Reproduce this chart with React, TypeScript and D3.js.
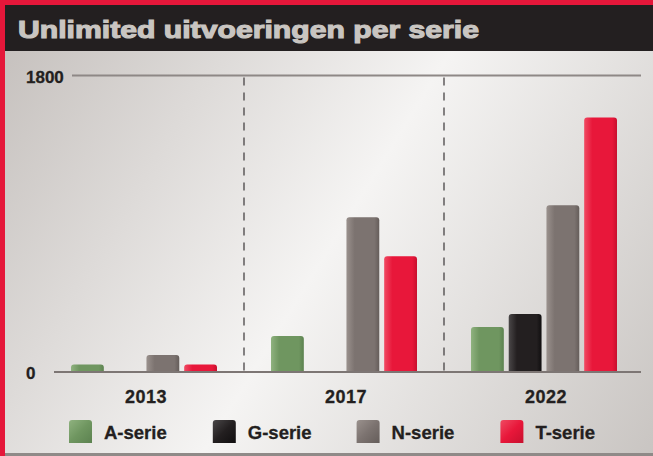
import React from "react";
import * as d3 from "d3";

const years = ["2013", "2017", "2022"];
const series = ["A-serie", "G-serie", "N-serie", "T-serie"];
const aSerie = [45, 218, 273];
const gSerie = [0, 0, 352];
const nSerie = [103, 940, 1012];
const tSerie = [45, 703, 1545];
const yTicks = [0, 1800];
const title = "Unlimited uitvoeringen per serie";

const W = 653;
const H = 456;
const colors: Record<string, [string, string, string]> = {
  "A-serie": ["#8fb27f", "#6f9660", "#5c8250"],
  "G-serie": ["#4a4748", "#231f20", "#100e0f"],
  "N-serie": ["#9a918d", "#7c7370", "#655d5a"],
  "T-serie": ["#f04a62", "#e8173a", "#c8102e"],
};

function topRounded(x: number, y: number, w: number, h: number, r: number) {
  if (h <= 0) return "";
  const rr = Math.min(r, h, w / 2);
  return `M${x},${y + h}V${y + rr}Q${x},${y} ${x + rr},${y}H${x + w - rr}Q${x + w},${y} ${x + w},${y + rr}V${y + h}Z`;
}

export default function App() {
  const values: Record<string, number[]> = {
    "A-serie": aSerie,
    "G-serie": gSerie,
    "N-serie": nSerie,
    "T-serie": tSerie,
  };
  const x0 = d3.scaleBand().domain(years).range([44, 644]).padding(0);
  const x1 = d3.scaleBand().domain(series).range([27, 173]).paddingInner(0.13).paddingOuter(0);
  const y = d3.scaleLinear().domain([0, 1800]).range([372, 75.5]);
  const font = "'Liberation Sans', Arial, Helvetica, sans-serif";

  return (
    <svg width={W} height={H} style={{ display: "block", position: "absolute", left: 0, top: 0 }}>
      <defs>
        <linearGradient id="bg" gradientUnits="userSpaceOnUse" x1="0" y1="51" x2="653" y2="454">
          <stop offset="0" stopColor="#c6c1be" />
          <stop offset="0.5" stopColor="#f5f4f3" />
          <stop offset="1" stopColor="#c9c5c2" />
        </linearGradient>
        {series.map((s) => (
          <linearGradient key={s} id={`g-${s}`} x1="0" y1="0" x2="1" y2="0">
            <stop offset="0" stopColor={colors[s][0]} />
            <stop offset="0.25" stopColor={colors[s][1]} />
            <stop offset="0.85" stopColor={colors[s][1]} />
            <stop offset="1" stopColor={colors[s][2]} />
          </linearGradient>
        ))}
        {series.map((s) => (
          <linearGradient key={s} id={`gl-${s}`} x1="0" y1="0" x2="1" y2="1">
            <stop offset="0" stopColor={colors[s][0]} />
            <stop offset="0.5" stopColor={colors[s][1]} />
            <stop offset="1" stopColor={colors[s][2]} />
          </linearGradient>
        ))}
      </defs>
      <rect x={0} y={0} width={W} height={H} fill="url(#bg)" />
      <rect x={0} y={0} width={W} height={6} fill="#e5173a" />
      <rect x={5} y={5} width={W - 5} height={46} fill="#231f20" />
      <rect x={0} y={0} width={5} height={H} fill="#e5173a" />
      <rect x={5} y={453} width={W - 5} height={3} fill="#8f8a88" />
      <text x={18} y={38} fontFamily={font} fontWeight="bold" fontSize={24} fill="#c9c5c1" stroke="#c9c5c1" strokeWidth={1.1} textLength={461} lengthAdjust="spacingAndGlyphs">
        {title}
      </text>

      {/* grid lines */}
      <line x1={72} x2={641} y1={y(1800)} y2={y(1800)} stroke="#8e8886" strokeWidth={2} />
      {[1, 2].map((i) => (
        <line key={i} x1={x0(years[i])!} x2={x0(years[i])!} y1={y(1800) + 2} y2={y(0)} stroke="#3a3637" strokeWidth={1.2} strokeDasharray="8,7" />
      ))}

      {years.map((yr, yi) =>
        series.map((s) => {
          const v = values[s][yi];
          if (!v) return null;
          const bx = x0(yr)! + x1(s)!;
          const by = y(v);
          return (
            <path key={s + yr} d={topRounded(bx, by, x1.bandwidth(), y(0) - by, 3)} fill={`url(#g-${s})`} />
          );
        })
      )}

      <line x1={54} x2={641} y1={y(0)} y2={y(0)} stroke="#7d7674" strokeWidth={2} />

      {yTicks.map((t) => (
        <text key={t} x={26} y={y(t) + 7} fontFamily={font} fontWeight="bold" fontSize={17} fill="#231f20" stroke="#231f20" strokeWidth={0.3}>
          {t}
        </text>
      ))}

      {years.map((yr) => (
        <text key={yr} x={x0(yr)! + 102} y={403} textAnchor="middle" fontFamily={font} fontWeight="bold" fontSize={18} fill="#231f20" stroke="#231f20" strokeWidth={0.3} letterSpacing={0.5}>
          {yr}
        </text>
      ))}

      {series.map((s, i) => {
        const lx = 69 + i * 143.8;
        return (
          <g key={s}>
            <path d={topRounded(lx, 420, 23, 23, 3)} fill={`url(#gl-${s})`} />
            <text x={lx + 35} y={439} fontFamily={font} fontWeight="bold" fontSize={18.5} fill="#231f20" stroke="#231f20" strokeWidth={0.3}>
              {s}
            </text>
          </g>
        );
      })}
    </svg>
  );
}
